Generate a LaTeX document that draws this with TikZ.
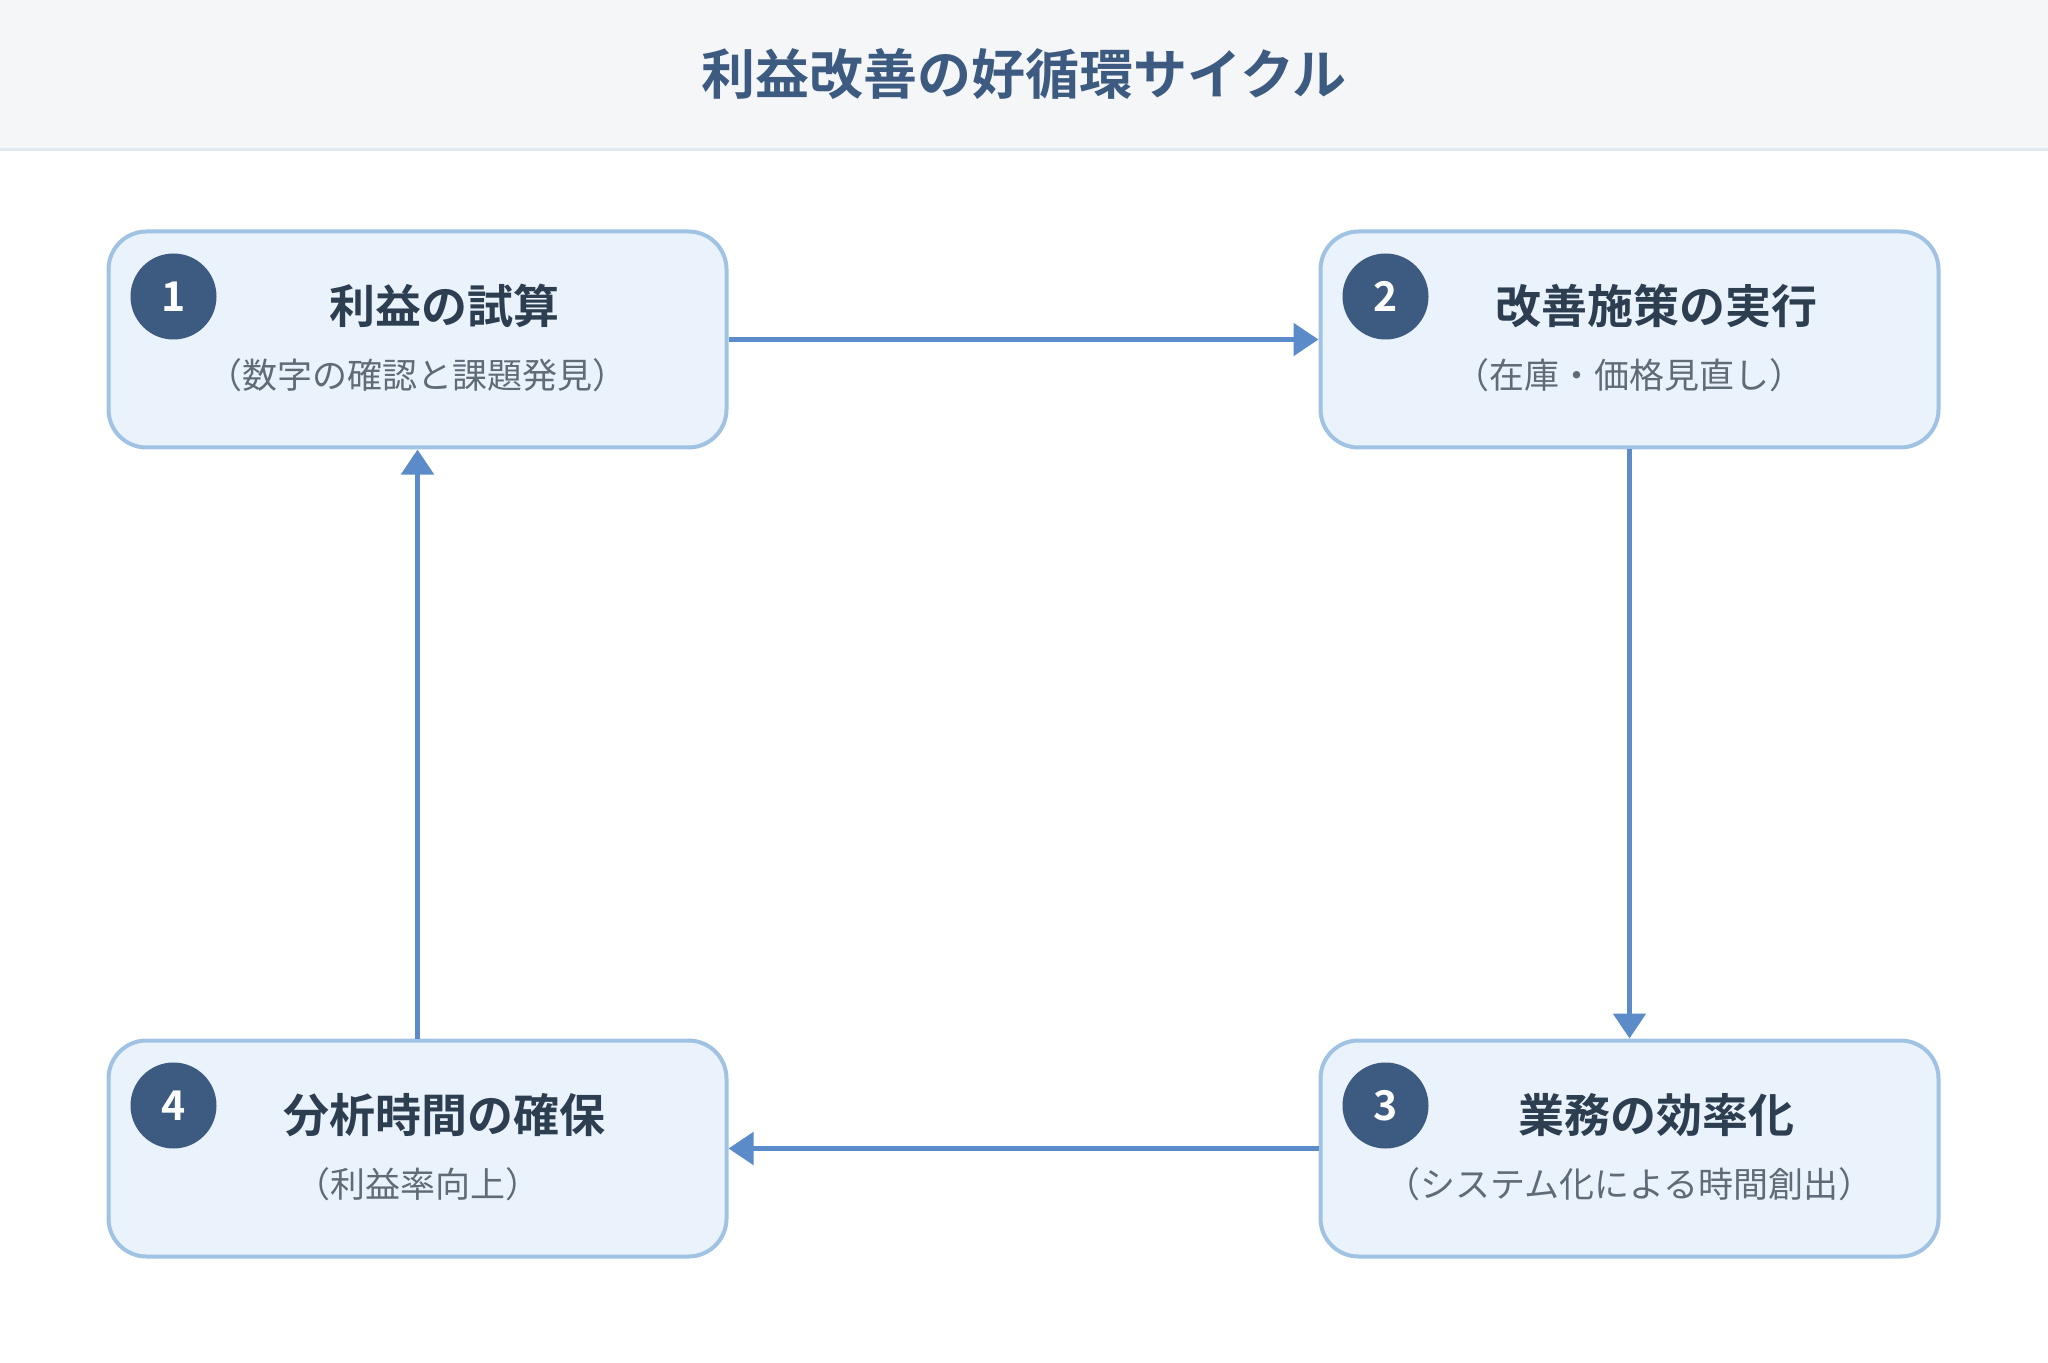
\documentclass[tikz,border=0pt]{standalone}
\usepackage{fontspec}
\setmainfont{Noto Sans CJK JP}[BoldFont={Noto Sans CJK JP Bold}]
\usetikzlibrary{arrows.meta,calc}
\definecolor{band}{HTML}{F4F6F8}
\definecolor{bandline}{HTML}{E2E8F0}
\definecolor{headblue}{HTML}{3D5A80}
\definecolor{boxfill}{HTML}{EAF2FB}
\definecolor{boxline}{HTML}{A0C2E3}
\definecolor{flowblue}{HTML}{5B8BC9}
\definecolor{darktext}{HTML}{2C3E50}
\definecolor{subtext}{HTML}{5F6B76}
\tikzset{
  >={Triangle[length=12.5pt,width=16pt]},
  x=0.5pt, y=-0.5pt,
}
\tikzstyle{stage}=[draw=boxline,line width=2pt,fill=boxfill,rounded corners=19pt,
  minimum width=309pt,minimum height=108pt,inner sep=0pt]
\tikzstyle{badge}=[circle,fill=headblue,minimum size=43pt,inner sep=0pt,
  text=white,font=\bfseries\fontsize{20.5}{24}\selectfont]
\tikzstyle{stagetitle}=[text=darktext,font=\bfseries\fontsize{23}{28}\selectfont]
\tikzstyle{stagenote}=[text=subtext,font=\fontsize{17.5}{20}\selectfont]
\tikzstyle{flow}=[->,flowblue,line width=2.6pt]

\begin{document}
\begin{tikzpicture}
    \useasboundingbox (0,0) rectangle (2048,1363);
    % header band
    \fill[band] (0,0) rectangle (2048,149);
    \draw[bandline,line width=1.5pt] (0,150)--(2048,150);
    \node[text=headblue,font=\bfseries\fontsize{27}{32}\selectfont] (head) at (1024,74) {利益改善の好循環サイクル};
    % stages
    \node[stage] (s1) at (417.5,339.5) {};
    \node[stage] (s2) at (1629.5,339.5) {};
    \node[stage] (s3) at (1629.5,1148.5) {};
    \node[stage] (s4) at (417.5,1148.5) {};
    \node[badge] (n1) at ($(s1.north west)+(67,67)$) {1};
    \node[badge] (n2) at ($(s2.north west)+(67,67)$) {2};
    \node[badge] (n3) at ($(s3.north west)+(67,67)$) {3};
    \node[badge] (n4) at ($(s4.north west)+(67,67)$) {4};
    \node[stagetitle] (t1) at ($(s1.center)+(27,-33.5)$) {利益の試算};
    \node[stagetitle] (t2) at ($(s2.center)+(27,-33.5)$) {改善施策の実行};
    \node[stagetitle] (t3) at ($(s3.center)+(27,-33.5)$) {業務の効率化};
    \node[stagetitle] (t4) at ($(s4.center)+(27,-33.5)$) {分析時間の確保};
    \node[stagenote] (d1) at ($(s1.center)+(0,35.5)$) {（数字の確認と課題発見）};
    \node[stagenote] (d2) at ($(s2.center)+(0,35.5)$) {（在庫・価格見直し）};
    \node[stagenote] (d3) at ($(s3.center)+(0,35.5)$) {（システム化による時間創出）};
    \node[stagenote] (d4) at ($(s4.center)+(0,35.5)$) {（利益率向上）};
    % cycle
    \draw[flow] (s1.east)--(s2.west);
    \draw[flow] (s2.south)--(s3.north);
    \draw[flow] (s3.west)--(s4.east);
    \draw[flow] (s4.north)--(s1.south);
\end{tikzpicture}
\end{document}
